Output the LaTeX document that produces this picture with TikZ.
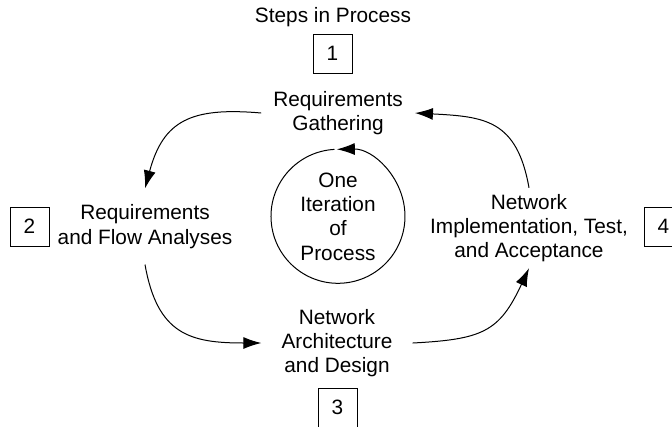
\documentclass[tikz,border=0pt]{standalone}
\usepackage{fontspec}
\setmainfont{Liberation Sans}
\usetikzlibrary{arrows.meta}
\begin{document}
\begin{tikzpicture}[x=1pt,y=1pt,
  lbl/.style={font=\fontsize{20.8}{24.3}\selectfont, align=center},
  numbox/.style={draw, line width=0.9pt, minimum size=39pt, inner sep=0pt, font=\fontsize{20.8}{24}\selectfont},
  arr/.style={line width=1pt, -{Latex[length=18pt,width=12pt]}}]
\useasboundingbox (0,0) rectangle (672,-426);
\clip (0,0) rectangle (672,-426);
\node[lbl] (title) at (333,-17) {Steps in Process};
\node[numbox] (b1) at (332.5,-53.5) {1};
\node[lbl, inner xsep=12pt, inner ysep=4pt] (rg) at (338,-113) {Requirements\\Gathering};
\node[lbl, inner ysep=16pt] (rf) at (145,-226.5) {Requirements\\and Flow Analyses};
\node[numbox] (b2) at (29.5,-226.5) {2};
\node[circle, minimum size=134pt, inner sep=0pt, lbl] (it) at (338,-216.5) {One\\Iteration\\of\\Process};
\node[lbl, inner ysep=6pt] (ni) at (529,-228) {Network\\Implementation, Test,\\and Acceptance};
\node[numbox] (b4) at (663.5,-226.5) {4};
\node[lbl, inner xsep=20pt] (na) at (337,-343) {Network\\Architecture\\and Design};
\node[numbox] (b3) at (337.5,-407.5) {3};
\draw[arr] (rg.west) to[out=175,in=75,looseness=1.3] (rf.north);
\draw[arr] (rf.south) to[out=-80,in=180,looseness=1.3] (na.west);
\draw[arr] (na.east) to[out=3,in=-115,looseness=1.3] (ni.south);
\draw[arr] (ni.north) to[out=100,in=-3,looseness=1.3] (rg.east);
\draw[arr] (it.93) arc[start angle=93,end angle=451,radius=67];
\end{tikzpicture}
\end{document}
